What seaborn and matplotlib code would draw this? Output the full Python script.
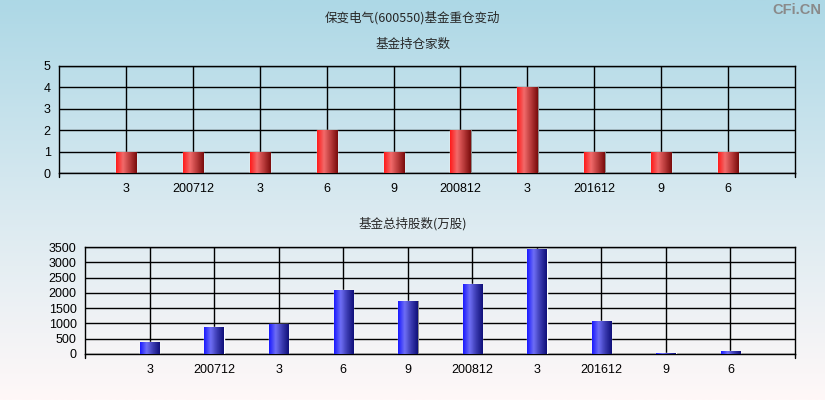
import matplotlib
matplotlib.use("Agg")
import matplotlib.pyplot as plt
from matplotlib.colors import LinearSegmentedColormap
import seaborn as sns
import numpy as np
import pandas as pd

# data
periods = ["3", "200712", "3", "6", "9", "200812", "3", "201612", "9", "6"]
fund_counts = [1, 1, 1, 2, 1, 2, 4, 1, 1, 1]
fund_shares = [400, 895, 990, 2100, 1745, 2300, 3445, 1090, 45, 110]

title = "保变电气(600550)基金重仓变动"
top_title = "基金持仓家数"
bottom_title = "基金总持股数(万股)"

sns.set_theme(style="white")
plt.rcParams["font.family"] = ["Liberation Sans", "Noto Sans CJK SC", "DejaVu Sans"]
cjk = ["Noto Sans CJK SC", "DejaVu Sans"]

red_cmap = LinearSegmentedColormap.from_list(
    "red_bar", ["#ff1a1a", "#f26a6a", "#b83a3a", "#7a0c0c"])
blue_cmap = LinearSegmentedColormap.from_list(
    "blue_bar", ["#1a1aff", "#6e6ef5", "#3a3ab0", "#10107a"])

fig = plt.figure(figsize=(8.25, 4.0), dpi=100)

# background gradient
bg = fig.add_axes([0, 0, 1, 1], zorder=-10)
grad = np.linspace(0, 1, 256).reshape(-1, 1)
bg_cmap = LinearSegmentedColormap.from_list("bg", ["#add8e6", "#d8e9f0", "#fff8f8"])
bg.imshow(grad, aspect="auto", cmap=bg_cmap, extent=[0, 1, 0, 1])
bg.set_axis_off()

fig.text(0.5, 1 - 18 / 400, title, ha="center", va="center", fontsize=9, family=cjk)
fig.text(0.5, 1 - 44 / 400, top_title, ha="center", va="center", fontsize=9, family=cjk)
fig.text(0.5, 1 - 224 / 400, bottom_title, ha="center", va="center", fontsize=9, family=cjk)
fig.text(0.996, 1 - 10 / 400, "CFi.CN", ha="right", va="center", fontsize=10.5,
         color="#8a8a8a", fontweight="bold")


def draw_panel(ax, values, ymax, ystep, cmap):
    df = pd.DataFrame({"period": range(len(periods)), "value": values})
    sns.barplot(data=df, x="period", y="value", ax=ax, width=0.3,
                color="#ff0000", native_scale=True, zorder=3)
    ax.set_facecolor("none")
    ax.set_xlim(-1, len(periods))
    ax.set_ylim(0, ymax)
    ax.set_yticks(np.arange(0, ymax + 1, ystep))
    ax.set_xticks(range(len(periods)))
    ax.set_xticklabels(periods)
    ax.set_xlabel("")
    ax.set_ylabel("")
    ax.grid(True, color="black", linewidth=1.0, zorder=1)
    for s in ax.spines.values():
        s.set_color("black")
        s.set_linewidth(1.0)
    ax.tick_params(axis="both", labelsize=9, colors="black", length=4,
                   width=1, direction="out", pad=2)
    ax.tick_params(axis="x", length=0, pad=7)
    # small ticks at the x-axis ends
    for xe in (-1, len(periods)):
        ax.plot([xe, xe], [0, -ymax * 0.04], color="black", lw=1,
                clip_on=False, zorder=4)
    # gradient fill on each bar
    for p in ax.patches:
        x0, y0 = p.get_x(), p.get_y()
        w, h = p.get_width(), p.get_height()
        if h <= 0:
            continue
        # grey shadow on the right edge
        ax.add_patch(plt.Rectangle((x0 + w, y0), w * 0.06, h,
                                   color="#707070", zorder=2.9, lw=0))
        img = ax.imshow(np.linspace(0, 1, 64).reshape(1, -1), cmap=cmap,
                        aspect="auto", extent=[x0, x0 + w, y0, y0 + h],
                        zorder=3.1, interpolation="bilinear")
        img.set_clip_path(p)
    ax.set_xlim(-1, len(periods))
    ax.set_ylim(0, ymax)


ax1 = fig.add_axes([59 / 825, 1 - 173 / 400, 736 / 825, 107 / 400])
draw_panel(ax1, fund_counts, 5, 1, red_cmap)

ax2 = fig.add_axes([85 / 825, 1 - 354 / 400, 710 / 825, 107 / 400])
draw_panel(ax2, fund_shares, 3500, 500, blue_cmap)

fig.savefig("out.png", dpi=100)
